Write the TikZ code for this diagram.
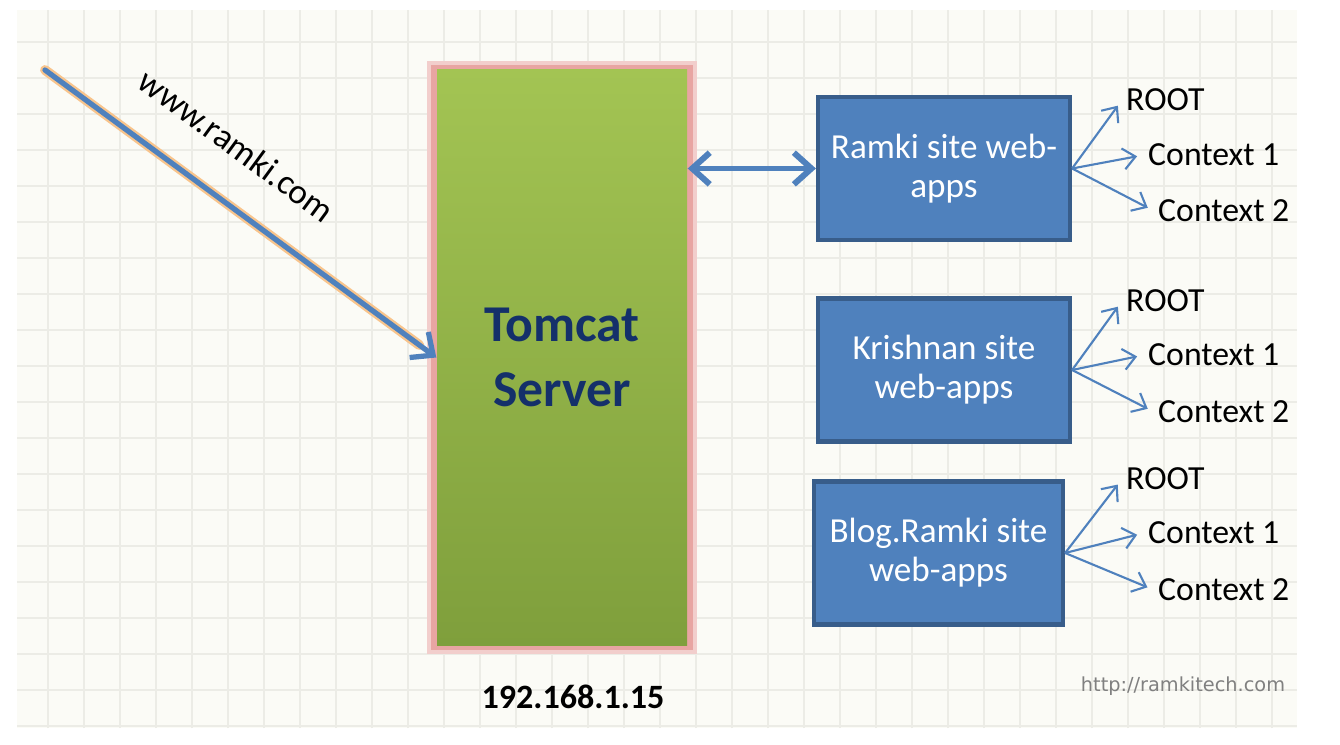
\documentclass[tikz,border=0pt]{standalone}
\usepackage{fontspec}
\setmainfont{Carlito}
\newfontfamily\markfont{DejaVu Sans}
\usetikzlibrary{arrows.meta}

\definecolor{paper}{HTML}{FBFBF6}
\definecolor{gridline}{HTML}{ECECE6}
\definecolor{srvtop}{HTML}{A3C453}
\definecolor{srvgreen}{HTML}{9BBB4C}
\definecolor{srvbot}{HTML}{7F9F3C}
\definecolor{srvglow}{HTML}{E8A5A2}
\definecolor{appblue}{HTML}{4F81BD}
\definecolor{appedge}{HTML}{385D8A}
\definecolor{navy}{HTML}{14306A}
\definecolor{glow}{HTML}{F8C48C}

\begin{document}
\begin{tikzpicture}[
  app/.style={draw=appedge, line width=1.2pt, fill=appblue, text=white, align=center,
    minimum width=2.52cm, minimum height=1.43cm, font=\fontsize{10}{11.1}\selectfont},
  ctx/.style={anchor=west, inner sep=1pt, font=\fontsize{9.6}{11}\selectfont},
  fan/.style={appblue, line width=0.6pt, shorten >=2pt, -{Straight Barb[length=3.5pt,width=6pt]}}
]
\useasboundingbox (0,0) rectangle (13.4,7.44);
\fill[white] (0,0) rectangle (13.4,7.44);
\fill[paper] (0.17,0.16) rectangle (12.97,7.34);
\foreach \x in {0.48,0.84,...,12.8}
  \draw[gridline, line width=0.4pt] (\x,0.16) -- (\x,7.34);
\foreach \y in {0.18,0.54,...,7.1}
  \draw[gridline, line width=0.4pt] (0.17,\y) -- (12.97,\y);

% server
\fill[srvglow!55] (4.27,0.90) rectangle (6.97,6.83);
\fill[srvglow] (4.31,0.94) rectangle (6.93,6.79);
\node[top color=srvtop, middle color=srvgreen, bottom color=srvbot,
      minimum width=2.5cm, minimum height=5.75cm, align=center, text=navy,
      font=\bfseries\fontsize{14.7}{18.5}\selectfont] (tomcat) at (5.62,3.865) {Tomcat\\Server};
\node[font=\bfseries\fontsize{9.7}{11}\selectfont] (ip) at (5.73,0.47) {192.168.1.15};

% client request
\coordinate (client) at (0.45,6.74);
\draw[glow, line width=2.8pt, line cap=round, shorten >=6pt] (client) -- (tomcat.west);
\draw[appblue, line width=1.5pt, line cap=round, -{Straight Barb[length=5pt,width=9pt]}] (client) -- (tomcat.west)
  node[pos=0.41, sloped, above=0.26cm, text=black, font=\fontsize{10}{12}\selectfont] {www.ramki.com};

% web-app groups
\node[app] (ramki) at (9.44,5.755) {Ramki site web-\\apps};
\node[app] (krishnan) at (9.44,3.74) {Krishnan site\\web-apps};
\node[app, minimum width=2.49cm] (blog) at (9.385,1.91) {Blog.Ramki site\\web-apps};

\draw[appblue, line width=1.7pt, {Straight Barb[length=5pt,width=9pt]}-{Straight Barb[length=5pt,width=9pt]}]
  (tomcat.east |- ramki.west) -- (ramki.west);

\foreach \site/\ya/\yb/\yc in {ramki/6.44/5.89/5.33, krishnan/4.43/3.89/3.32, blog/2.65/2.11/1.54} {
  \node[ctx] (\site-root) at (11.22,\ya) {ROOT};
  \node[ctx] (\site-c1) at (11.44,\yb) {Context 1};
  \node[ctx] (\site-c2) at (11.54,\yc) {Context 2};
  \draw[fan] (\site.east) -- (\site-root.west);
  \draw[fan] (\site.east) -- (\site-c1.west);
  \draw[fan] (\site.east) -- (\site-c2.west);
}

\node[text=gray, font=\markfont\fontsize{5.5}{6}\selectfont] (site) at (11.83,0.58) {http://ramkitech.com};
\end{tikzpicture}
\end{document}
